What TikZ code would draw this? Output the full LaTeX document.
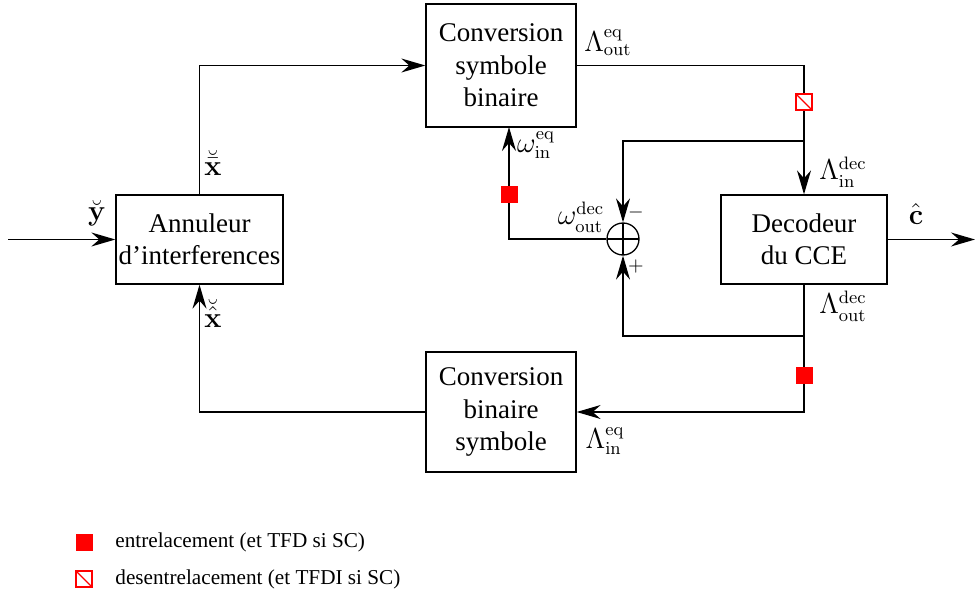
\documentclass[tikz,border=0pt]{standalone}
\usepackage[no-math]{fontspec}
\setmainfont{Liberation Serif}
\usetikzlibrary{arrows.meta}
\begin{document}
\begin{tikzpicture}[x=0.5pt,y=-0.5pt,
 box/.style={draw, line width=0.65pt, align=center, inner sep=0pt, font=\fontsize{13.5}{16.2}\selectfont},
 wire/.style={line width=0.65pt},
 arr/.style={wire, -{Stealth[length=12pt,width=7pt,inset=4pt]}},
 lbl/.style={font=\fontsize{13.5}{16}\selectfont, inner sep=0pt},
 ilv/.style={fill=red, draw=red, minimum size=8pt, inner sep=0pt},
 dilv/.style={draw=red, fill=white, line width=0.6pt, minimum size=8pt, inner sep=0pt,
   path picture={\draw[red, line width=0.6pt] (path picture bounding box.north west) -- (path picture bounding box.south east);}},
 legend/.style={font=\fontsize{10.6}{12}\selectfont, anchor=west, inner sep=0pt},
]
\useasboundingbox (0,0) rectangle (975,594);

% blocks
\node[box, minimum width=83.5pt, minimum height=44.5pt] (ann) at (199.5,239.5) {Annuleur\\d'interferences};
\node[box, minimum width=75pt, minimum height=61.5pt] (csb) at (501,65.5) {Conversion\\symbole\\binaire};
\node[box, minimum width=83pt, minimum height=44.5pt] (dec) at (804,239.5) {Decodeur\\du CCE};
\node[box, minimum width=75pt, minimum height=60pt] (cbs) at (501,412) {Conversion\\binaire\\symbole};
\node[draw, circle, line width=0.65pt, minimum size=16pt, inner sep=0pt,
  path picture={\draw[line width=0.65pt] (path picture bounding box.north) -- (path picture bounding box.south)
     (path picture bounding box.west) -- (path picture bounding box.east);}] (sum) at (623,239) {};

% coordinates
\coordinate (in) at (8,239.5);
\coordinate (out) at (975,239.5);
\coordinate (fb1) at (804,141);
\coordinate (fb2) at (804,336);
\coordinate (csbin) at (509,127);

% wires
\draw[arr] (in) -- (ann.west);
\draw[arr] (ann.north) |- (csb.west);
\draw[arr] (csb.east) -| (dec.north);
\draw[arr] (fb1) -| (sum.north);
\draw[arr] (dec.south) |- (cbs.east);
\draw[arr] (fb2) -| (sum.south);
\draw[arr] (sum.west) -| (csbin);
\draw[arr] (cbs.west) -| (ann.south);
\draw[arr] (dec.east) -- (out);

% interleavers
\node[dilv] (d1) at (804,102) {};
\node[ilv] (i1) at (804,375) {};
\node[ilv] (i2) at (509,194) {};

% labels
\node[lbl] (ly) at (97,213) {$\breve{\mathbf{y}}$};
\node[lbl] (lxb) at (213,163) {$\breve{\bar{\mathbf{x}}}$};
\node[lbl] (lxh) at (213,313) {$\breve{\hat{\mathbf{x}}}$};
\node[lbl] (lc) at (916,214) {$\hat{\mathbf{c}}$};
\node[lbl] (l1) at (608,43) {$\Lambda_{\mathrm{out}}^{\mathrm{eq}}$};
\node[lbl] (l2) at (536,145) {$\omega_{\mathrm{in}}^{\mathrm{eq}}$};
\node[lbl] (l3) at (581,217) {$\omega_{\mathrm{out}}^{\mathrm{dec}}$};
\node[lbl] (l4) at (843,172) {$\Lambda_{\mathrm{in}}^{\mathrm{dec}}$};
\node[lbl] (l5) at (843,306) {$\Lambda_{\mathrm{out}}^{\mathrm{dec}}$};
\node[lbl] (l6) at (605,441) {$\Lambda_{\mathrm{in}}^{\mathrm{eq}}$};
\node[lbl, font=\fontsize{10}{12}\selectfont] (lm) at (636,212) {$-$};
\node[lbl, font=\fontsize{10}{12}\selectfont] (lp) at (636,266) {$+$};

% legend
\node[ilv] (k1) at (84,542) {};
\node[legend] (t1) at (115,542) {entrelacement (et TFD si SC)};
\node[dilv] (k2) at (84,579) {};
\node[legend] (t2) at (115,579) {desentrelacement (et TFDI si SC)};
\end{tikzpicture}
\end{document}
